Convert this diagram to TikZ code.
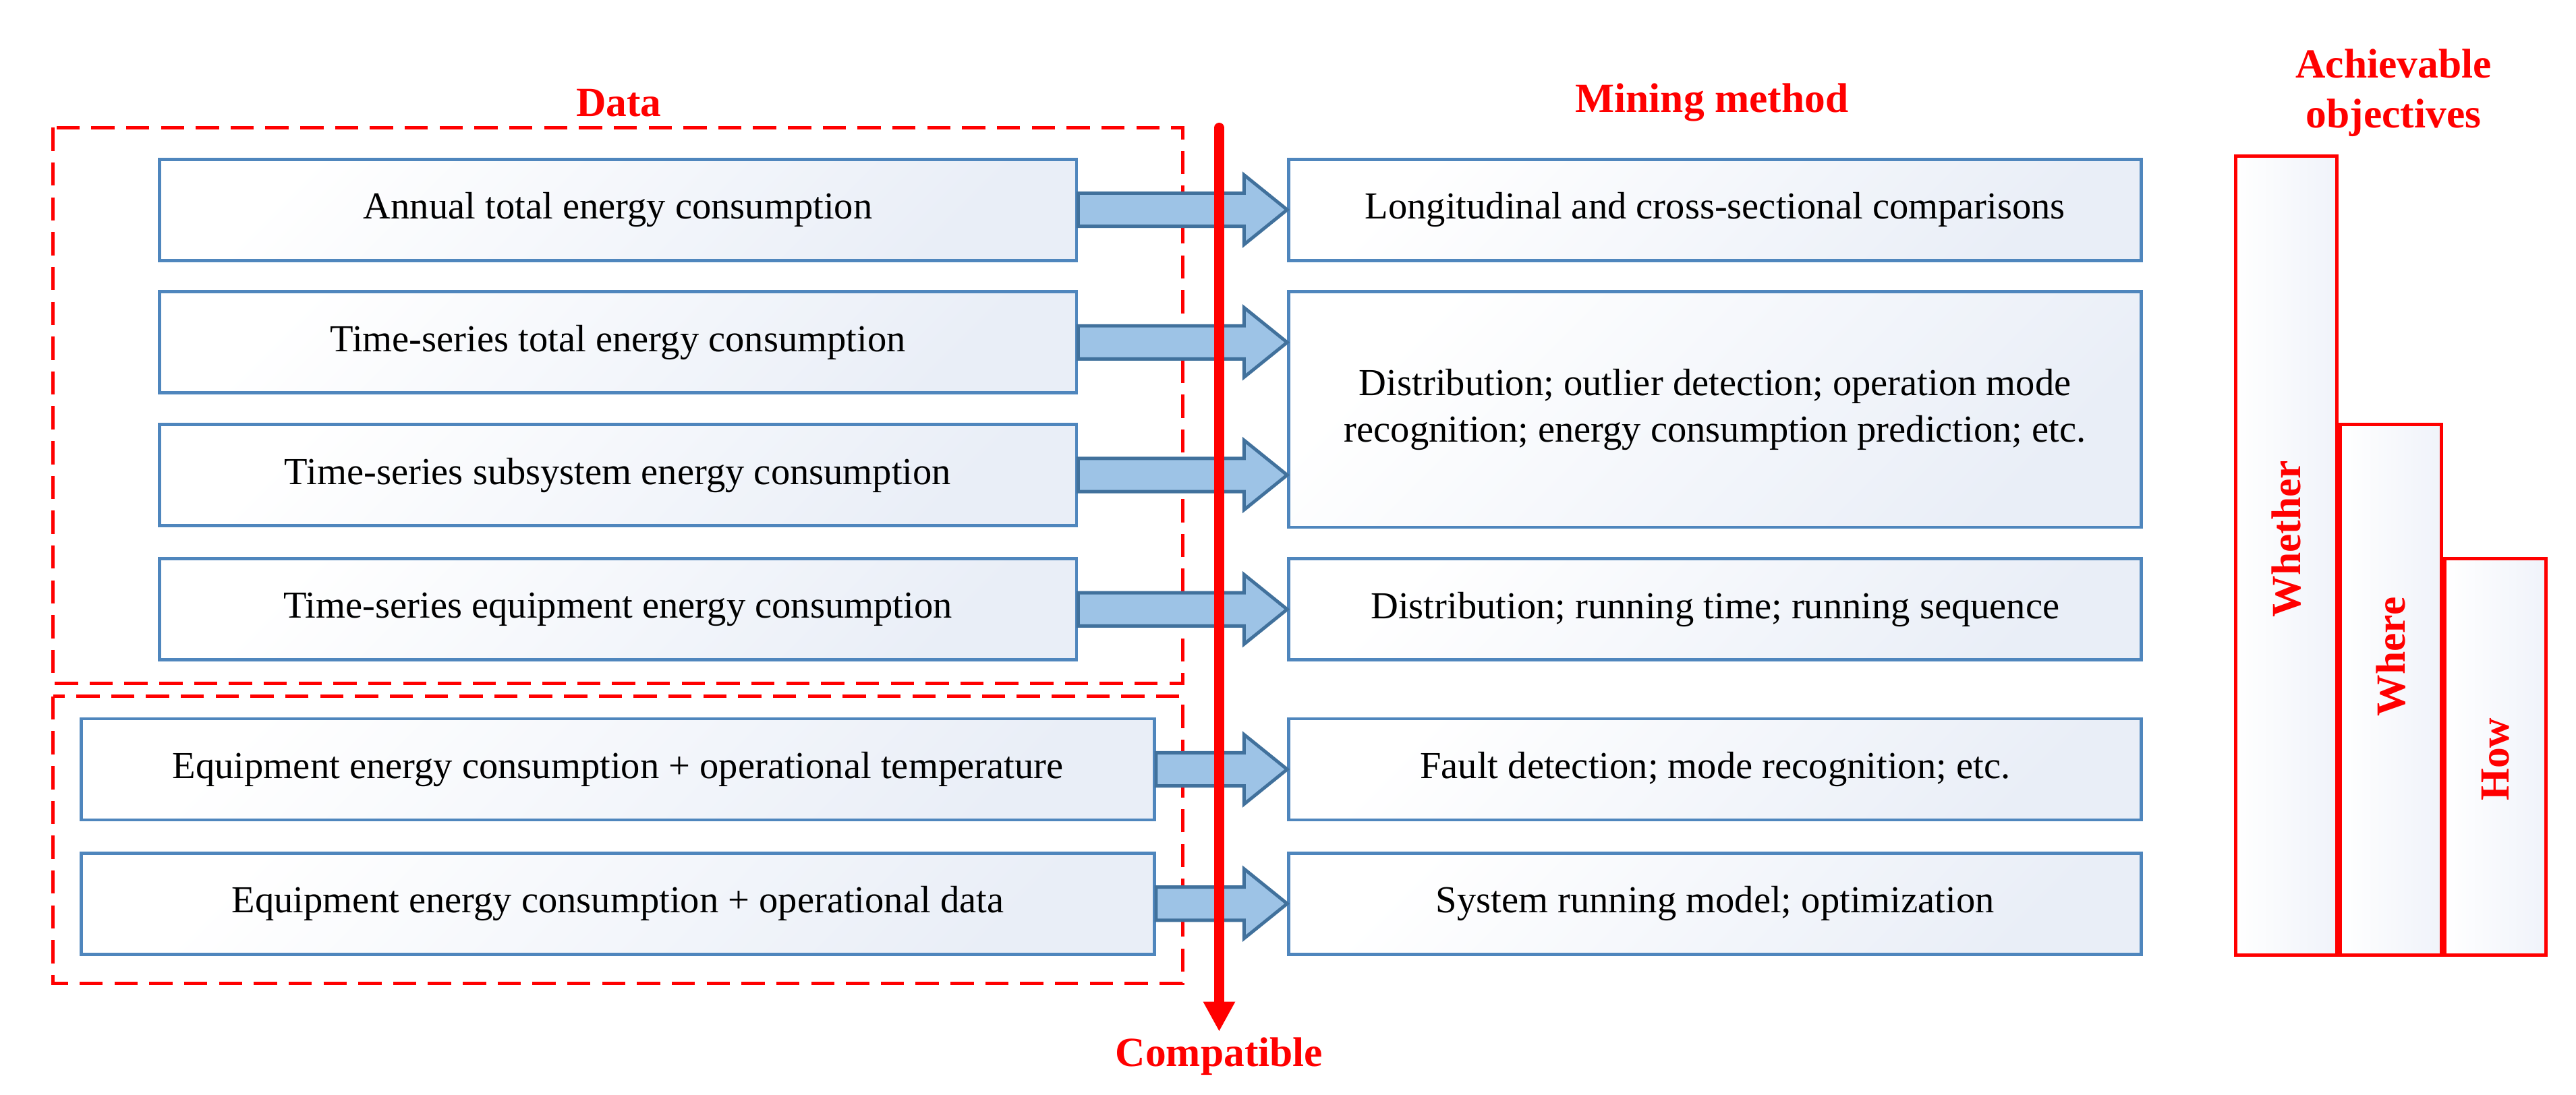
\documentclass[tikz,border=0pt]{standalone}
\usepackage{fontspec}
\setmainfont{Liberation Serif}
\usetikzlibrary{calc,arrows.meta}
\begin{document}
\begin{tikzpicture}[x=1pt,y=-1pt,
  box/.style={draw={rgb,255:red,79;green,134;blue,189}, line width=2pt,
    left color=white, right color={rgb,255:red,233;green,238;blue,247}, shading angle=45,
    minimum height=61pt, inner sep=0pt, font=\fontsize{23}{28}\selectfont, align=center},
  farrow/.style={fill={rgb,255:red,157;green,195;blue,230}, draw={rgb,255:red,65;green,113;blue,156}, line width=2pt, line join=miter},
  dbox/.style={draw=red, line width=2pt, dash pattern=on 14pt off 7pt},
  title/.style={text=red, font=\bfseries\fontsize{25}{30}\selectfont, align=center},
  objt/.style={text=red, font=\bfseries\fontsize{25}{30}\selectfont, rotate=90}]
\useasboundingbox (0,0) rectangle (1553,660);
\newcommand\fatarrow[3]{\filldraw[farrow] let \p1=(#1), \p2=(#2) in
  (\x1,#3-10) -- (\x2-26,#3-10) -- (\x2-26,#3-21) -- (\x2,#3) -- (\x2-26,#3+21) -- (\x2-26,#3+10) -- (\x1,#3+10) -- cycle;}
\draw[dbox] (32,77) rectangle (713,412);
\draw[dbox] (32,420) rectangle (713,593);
\node[title] (tdata) at (373,62) {Data};
\node[title] (tmin) at (1032,62) {Mining method};
\node[title] (tobj) at (1443,56) {Achievable\\objectives};
\node[box, minimum width=553pt] (l1) at (372.5,126.5) {Annual total energy consumption};
\node[box, minimum width=553pt] (l2) at (372.5,206.5) {Time-series total energy consumption};
\node[box, minimum width=553pt] (l3) at (372.5,286.5) {Time-series subsystem energy consumption};
\node[box, minimum width=553pt] (l4) at (372.5,367.5) {Time-series equipment energy consumption};
\node[box, minimum width=647pt] (l5) at (372.5,464) {Equipment energy consumption + operational temperature};
\node[box, minimum width=647pt] (l6) at (372.5,545) {Equipment energy consumption + operational data};
\node[box, minimum width=514pt] (r1) at (1034,126.5) {Longitudinal and cross-sectional comparisons};
\node[box, minimum width=514pt, minimum height=142pt] (r2) at (1034,247) {Distribution; outlier detection; operation mode\\recognition; energy consumption prediction; etc.};
\node[box, minimum width=514pt] (r3) at (1034,367.5) {Distribution; running time; running sequence};
\node[box, minimum width=514pt] (r4) at (1034,464) {Fault detection; mode recognition; etc.};
\node[box, minimum width=514pt] (r5) at (1034,545) {System running model; optimization};
\fatarrow{l1.east}{r1.west}{126.5}
\fatarrow{l2.east}{r2.west}{206.5}
\fatarrow{l3.east}{r2.west}{286.5}
\fatarrow{l4.east}{r3.west}{367.5}
\fatarrow{l5.east}{r4.west}{464}
\fatarrow{l6.east}{r5.west}{545}
\coordinate (ctop) at (735,77);
\node[title] (tcomp) at (735,637) {Compatible};
\draw[red, line width=6pt, line cap=round, -{Triangle[length=18pt,width=18pt]}] (ctop) -- (tcomp.north);
\node[draw=red, line width=2pt, minimum width=61pt, minimum height=482pt, inner sep=0pt, left color=white, right color={rgb,255:red,240;green,243;blue,250}] (o1) at (1378.5,335) {};
\node[draw=red, line width=2pt, minimum width=61pt, minimum height=320pt, inner sep=0pt, left color=white, right color={rgb,255:red,240;green,243;blue,250}] (o2) at (1441.5,416) {};
\node[draw=red, line width=2pt, minimum width=61pt, minimum height=239pt, inner sep=0pt, left color=white, right color={rgb,255:red,240;green,243;blue,250}] (o3) at (1504.5,456.5) {};
\node[objt] at (1378.5,325) {Whether};
\node[objt] at (1441.5,396) {Where};
\node[objt] at (1504.5,458) {How};
\end{tikzpicture}
\end{document}
